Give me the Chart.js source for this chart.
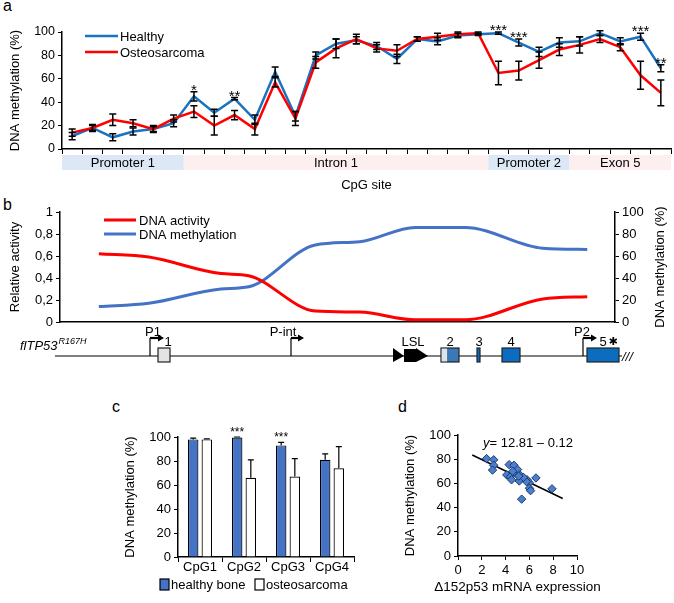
<!DOCTYPE html>
<html>
<head>
<meta charset="utf-8">
<script src="https://cdn.jsdelivr.net/npm/chart.js@4.4.0/dist/chart.umd.min.js"></script>
<style>
body { margin: 0; background: #fff; width: 674px; height: 603px; position: relative; overflow: hidden; font-family: "Liberation Sans", Arial, sans-serif; }
canvas { position: absolute; }
.tag { position: absolute; font-size: 16px; color: #000; }
</style>
</head>
<body>
<div class="tag" style="left:3px;top:-3px">a</div>
<div class="tag" style="left:3px;top:196px">b</div>
<div class="tag" style="left:112px;top:398px">c</div>
<div class="tag" style="left:398px;top:398px">d</div>
<canvas id="ca" width="674" height="200" style="left:0;top:0"></canvas>
<canvas id="cb" width="674" height="185" style="left:0;top:195px"></canvas>
<canvas id="cc" width="330" height="208" style="left:40px;top:395px"></canvas>
<canvas id="cd" width="304" height="208" style="left:370px;top:395px"></canvas>
<script>
Chart.defaults.font.family = '"Liberation Sans", Arial, sans-serif';
Chart.defaults.font.size = 12;
Chart.defaults.color = '#111';

// ---- panel a : CpG methylation along the gene
const cpgSites = ['1','2','3','4','5','6','7','8','9','10','11','12','13','14','15','16','17','18','19','20','21','22','23','24','25','26','27','28','29','30'];
const healthyMeth = [11, 18, 10, 15, 17, 22, 45, 31, 43, 25, 66, 28, 80, 90, 93, 88, 77, 94, 92, 97, 98, 99, 91, 83, 91, 92, 99, 92, 96, 69];
const healthyErr  = [3, 3, 3, 3, 2, 3, 4, 3, 1, 4, 4, 4, 3, 4, 3, 3, 4, 2, 3, 2, 1, 1, 3, 4, 4, 4, 2, 3, 3, 3];
const osteoMeth   = [14, 18, 25, 22, 17, 26, 32, 20, 29, 17, 57, 26, 74, 86, 94, 86, 84, 94, 96, 98, 99, 65, 67, 76, 85, 89, 94, 87, 63, 48];
const osteoErr    = [3, 2, 5, 3, 3, 3, 5, 8, 4, 5, 4, 6, 5, 8, 4, 3, 5, 2, 3, 2, 1, 10, 8, 7, 5, 7, 3, 3, 12, 11];
const sigMarks    = ['', '', '', '', '', '', '*', '', '**', '', '', '', '', '', '', '', '', '', '', '', '', '***', '***', '', '', '', '', '', '***', '**'];
const regions = [
  { name: 'Promoter 1', from: 0, to: 6, fill: '#dce8f5' },
  { name: 'Intron 1', from: 6, to: 21, fill: '#fdeff0' },
  { name: 'Promoter 2', from: 21, to: 25, fill: '#dce8f5' },
  { name: 'Exon 5', from: 25, to: 30, fill: '#fdeff0' }
];

// ---- panel b : smoothed activity / methylation profile
const profilePos   = [7, 16, 29, 34, 46, 54, 64, 73, 87, 95];
const dnaActivity  = [0.62, 0.59, 0.44, 0.42, 0.10, 0.09, 0.02, 0.02, 0.21, 0.23];
const dnaMethProf  = [14, 17, 30, 32, 70, 73, 86, 86, 67, 66];

// ---- panel c : pyrosequencing CpG1-4
const cpgGroups   = ['CpG1', 'CpG2', 'CpG3', 'CpG4'];
const boneMeth    = [98, 99.5, 93, 81];
const boneErr     = [1, 0.5, 2.5, 5];
const sarcomaMeth = [98, 66, 67, 74];
const sarcomaErr  = [0.5, 15, 15, 18];
const cpgSig      = ['', '***', '***', ''];

// ---- panel d : methylation vs expression
const exprX = [2.4, 3.0, 3.0, 2.9, 4.1, 4.3, 4.7, 4.4, 4.5, 4.9, 5.0, 5.2, 5.15, 5.8, 6.0, 6.0, 6.1, 6.55, 7.9, 5.35, 5.75, 4.6, 5.5, 5.1];
const methY = [80.5, 79.5, 75, 71, 67, 75.5, 75, 65.5, 63, 68, 71.5, 67, 62, 63, 60.5, 56, 54, 64.5, 55.5, 47, 61.5, 70, 65, 66];
const trendX = [1.2, 8.8];
const trendY = [83.5, 47.5];

const black = '#000';
const fontStr = (s, extra) => (extra ? extra + ' ' : '') + s + 'px "Liberation Sans", Arial, sans-serif';

const errorBars = {
  id: 'errorBars',
  afterDatasetsDraw(chart, args, opts) {
    const ctx = chart.ctx;
    const y = chart.scales.y;
    chart.data.datasets.forEach((ds, di) => {
      if (!ds.errors) return;
      const meta = chart.getDatasetMeta(di);
      meta.data.forEach((el, i) => {
        const v = ds.data[i], e = ds.errors[i];
        const top = y.getPixelForValue(v + e);
        const bot = y.getPixelForValue(opts.upOnly ? v : v - e);
        ctx.save();
        ctx.strokeStyle = black;
        ctx.lineWidth = opts.width;
        ctx.beginPath();
        ctx.moveTo(el.x, top); ctx.lineTo(el.x, bot);
        ctx.moveTo(el.x - opts.cap, top); ctx.lineTo(el.x + opts.cap, top);
        if (!opts.upOnly) { ctx.moveTo(el.x - opts.cap, bot); ctx.lineTo(el.x + opts.cap, bot); }
        ctx.stroke();
        ctx.restore();
      });
    });
  }
};

// extras for panel a: legend, stars, region band, axis name
const panelAExtras = {
  id: 'panelAExtras',
  afterDraw(chart) {
    const ctx = chart.ctx, x = chart.scales.x, y = chart.scales.y, area = chart.chartArea;
    const w = (area.right - area.left) / cpgSites.length;
    ctx.save();
    regions.forEach(r => {
      const x0 = x.getPixelForValue(r.from) - w / 2;
      const x1 = x.getPixelForValue(r.to - 1) + w / 2;
      ctx.fillStyle = r.fill;
      ctx.fillRect(x0, area.bottom + 6, x1 - x0, 15);
      ctx.fillStyle = black;
      ctx.font = fontStr(13);
      ctx.textAlign = 'center';
      ctx.textBaseline = 'middle';
      ctx.fillText(r.name, (x0 + x1) / 2, area.bottom + 14);
    });
    ctx.fillText('CpG site', (area.left + area.right) / 2, area.bottom + 36);

    ctx.font = fontStr(15);
    ctx.textAlign = 'center';
    ctx.textBaseline = 'alphabetic';
    sigMarks.forEach((m, i) => {
      if (!m) return;
      const top = Math.max(healthyMeth[i] + healthyErr[i], osteoMeth[i] + osteoErr[i]);
      ctx.fillText(m, x.getPixelForValue(i), y.getPixelForValue(top) + 3);
    });

    ctx.font = fontStr(13);
    chart.data.datasets.forEach((ds, i) => {
      const ly = 36 + i * 16;
      ctx.strokeStyle = ds.borderColor;
      ctx.lineWidth = 2.5;
      ctx.beginPath(); ctx.moveTo(85, ly); ctx.lineTo(118, ly); ctx.stroke();
      ctx.textAlign = 'left';
      ctx.textBaseline = 'middle';
      ctx.fillText(ds.label, 120, ly + 1);
    });
    ctx.restore();
  }
};

new Chart(document.getElementById('ca'), {
  type: 'line',
  data: {
    labels: cpgSites,
    datasets: [
      { label: 'Healthy', data: healthyMeth, errors: healthyErr, borderColor: '#1a73c1', borderWidth: 2.5, pointRadius: 0, order: 1 },
      { label: 'Osteosarcoma', data: osteoMeth, errors: osteoErr, borderColor: '#ff0000', borderWidth: 2.5, pointRadius: 0, order: 0 }
    ]
  },
  options: {
    responsive: false,
    animation: false,
    layout: { padding: { left: 8, right: 3, top: 32, bottom: 0 } },
    plugins: { legend: { display: false }, tooltip: { enabled: false }, errorBars: { width: 1.5, cap: 3.5 } },
    scales: {
      x: {
        offset: true,
        grid: { offset: true, drawOnChartArea: false, tickLength: 5, color: black },
        border: { color: black, width: 1.5 },
        ticks: { display: false },
        afterFit: s => { s.height = 51; }
      },
      y: {
        min: 0, max: 100,
        ticks: { stepSize: 20, color: black, font: { size: 12.5 } },
        grid: { drawOnChartArea: false, tickLength: 4, color: black },
        border: { color: black, width: 1.5 },
        title: { display: true, text: 'DNA methylation (%)', font: { size: 13 }, color: black, padding: { top: 0, bottom: 0 } },
        afterFit: s => { s.width = 54; }
      }
    }
  },
  plugins: [errorBars, panelAExtras]
});

// ---- panel b
const geneDiagram = {
  id: 'geneDiagram',
  afterDraw(chart) {
    const ctx = chart.ctx, area = chart.chartArea;
    ctx.save();
    // legend
    const items = [['DNA activity', '#ff0000'], ['DNA methylation', '#4472c4']];
    items.forEach((it, i) => {
      const ly = 25 + i * 14;
      ctx.strokeStyle = it[1]; ctx.lineWidth = 3;
      ctx.beginPath(); ctx.moveTo(104, ly); ctx.lineTo(136, ly); ctx.stroke();
      ctx.fillStyle = black; ctx.font = fontStr(13);
      ctx.textAlign = 'left'; ctx.textBaseline = 'middle';
      ctx.fillText(it[0], 139, ly + 1);
    });
    // right axis name
    ctx.save();
    ctx.translate(660, (area.top + area.bottom) / 2);
    ctx.rotate(-Math.PI / 2);
    ctx.textAlign = 'center'; ctx.textBaseline = 'middle';
    ctx.font = fontStr(13);
    ctx.fillText('DNA methylation (%)', 0, 0);
    ctx.restore();

    // gene schematic
    const ly = 161, bt = 153, bh = 14;
    ctx.strokeStyle = black; ctx.lineWidth = 1.2;
    ctx.beginPath(); ctx.moveTo(55, ly); ctx.lineTo(622, ly); ctx.stroke();

    ctx.font = fontStr(13, 'italic');
    ctx.textAlign = 'left'; ctx.textBaseline = 'alphabetic';
    ctx.fillText('flTP53', 20, 155);
    const tw = ctx.measureText('flTP53').width;
    ctx.font = fontStr(9, 'italic');
    ctx.fillText('R167H', 20 + tw + 1, 149);

    const promoter = (px, end, label, lx) => {
      ctx.strokeStyle = black; ctx.lineWidth = 1.2;
      ctx.beginPath(); ctx.moveTo(px, ly); ctx.lineTo(px, 143); ctx.stroke();
      ctx.lineWidth = 2.2;
      ctx.beginPath(); ctx.moveTo(px, 143); ctx.lineTo(end - 5, 143); ctx.stroke();
      ctx.fillStyle = black;
      ctx.beginPath(); ctx.moveTo(end, 143); ctx.lineTo(end - 6, 139.5); ctx.lineTo(end - 6, 146.5); ctx.closePath(); ctx.fill();
      ctx.font = fontStr(13); ctx.textAlign = 'center'; ctx.textBaseline = 'alphabetic';
      ctx.fillText(label, lx, 141);
    };
    promoter(150, 164, 'P1', 153);
    promoter(291, 304, 'P-int', 283);
    promoter(583, 597, 'P2', 582);

    const box = (x0, x1, fill) => {
      ctx.fillStyle = fill; ctx.fillRect(x0, bt, x1 - x0, bh);
      ctx.strokeStyle = '#222'; ctx.lineWidth = 1.2; ctx.strokeRect(x0, bt, x1 - x0, bh);
    };
    const num = (t, x) => {
      ctx.fillStyle = black; ctx.font = fontStr(13); ctx.textAlign = 'center'; ctx.textBaseline = 'alphabetic';
      ctx.fillText(t, x, 151);
    };
    box(158, 170, '#e3e3e3'); num('1', 168);
    // LSL cassette
    ctx.fillStyle = black;
    ctx.beginPath(); ctx.moveTo(393, bt); ctx.lineTo(404, ly); ctx.lineTo(393, bt + bh); ctx.closePath(); ctx.fill();
    ctx.fillRect(404, bt + 1, 12, bh - 1);
    ctx.beginPath(); ctx.moveTo(416, bt); ctx.lineTo(428, ly); ctx.lineTo(416, bt + bh); ctx.closePath(); ctx.fill();
    num('LSL', 413);
    box(441, 459, '#3a78b8');
    ctx.fillStyle = '#e3e3e3'; ctx.fillRect(441.6, bt + 0.6, 5.5, bh - 1.2);
    num('2', 450);
    box(477, 480, '#0b6cc0'); num('3', 479);
    box(502, 520, '#0b6cc0'); num('4', 511);
    box(587, 619, '#0b6cc0'); num('5', 603);
    ctx.font = '11px "DejaVu Sans"'; ctx.fillText('\u2731', 613, 150);
    ctx.font = fontStr(13, 'italic'); ctx.textAlign = 'left'; ctx.textBaseline = 'middle';
    ctx.fillText('///', 622, ly + 1);
    ctx.restore();
  }
};

new Chart(document.getElementById('cb'), {
  type: 'line',
  data: {
    datasets: [
      { label: 'DNA activity', data: profilePos.map((p, i) => ({ x: p, y: dnaActivity[i] })), yAxisID: 'y', borderColor: '#ff0000', borderWidth: 3, pointRadius: 0, cubicInterpolationMode: 'monotone' },
      { label: 'DNA methylation', data: profilePos.map((p, i) => ({ x: p, y: dnaMethProf[i] })), yAxisID: 'y2', borderColor: '#4472c4', borderWidth: 3, pointRadius: 0, cubicInterpolationMode: 'monotone' }
    ]
  },
  options: {
    responsive: false,
    animation: false,
    layout: { padding: { left: 8, right: 0, top: 17, bottom: 0 } },
    plugins: { legend: { display: false }, tooltip: { enabled: false } },
    scales: {
      x: {
        type: 'linear', min: 0, max: 100,
        ticks: { display: false },
        grid: { display: false },
        border: { color: black, width: 1.5 },
        afterFit: s => { s.height = 58; }
      },
      y: {
        position: 'left', min: 0, max: 1,
        ticks: { stepSize: 0.2, color: black, font: { size: 13 }, callback: v => v === 0 || v === 1 ? String(v) : v.toFixed(1).replace('.', ',') },
        grid: { drawOnChartArea: false, tickLength: 4, color: black },
        border: { color: black, width: 1.5 },
        title: { display: true, text: 'Relative activity', font: { size: 13 }, color: black, padding: { top: 0, bottom: 0 } },
        afterFit: s => { s.width = 52; }
      },
      y2: {
        position: 'right', min: 0, max: 100,
        ticks: { stepSize: 20, color: black, font: { size: 13 } },
        grid: { drawOnChartArea: false, tickLength: 4, color: black },
        border: { color: black, width: 1.5 },
        afterFit: s => { s.width = 59; }
      }
    }
  },
  plugins: [geneDiagram]
});

// ---- panel c
const panelCExtras = {
  id: 'panelCExtras',
  afterDraw(chart) {
    const ctx = chart.ctx, y = chart.scales.y;
    ctx.save();
    const meta = chart.getDatasetMeta(0);
    ctx.fillStyle = black; ctx.font = fontStr(12); ctx.textAlign = 'center'; ctx.textBaseline = 'alphabetic';
    cpgSig.forEach((m, i) => {
      if (!m) return;
      ctx.fillText(m, meta.data[i].x, y.getPixelForValue(boneMeth[i] + boneErr[i]) - 1);
    });
    // legend
    chart.data.datasets.forEach((ds, i) => {
      const bx = 120 + i * 95;
      ctx.fillStyle = ds.backgroundColor; ctx.fillRect(bx, 184, 9, 11);
      ctx.strokeStyle = black; ctx.lineWidth = 1.2; ctx.strokeRect(bx, 184, 9, 11);
      ctx.fillStyle = black; ctx.font = fontStr(13); ctx.textAlign = 'left'; ctx.textBaseline = 'middle';
      ctx.fillText(ds.label, bx + 11, 190);
    });
    ctx.restore();
  }
};

new Chart(document.getElementById('cc'), {
  type: 'bar',
  data: {
    labels: cpgGroups,
    datasets: [
      { label: 'healthy bone', data: boneMeth, errors: boneErr, backgroundColor: '#4472c4', borderColor: black, borderWidth: 1.2, categoryPercentage: 0.62, barPercentage: 0.77 },
      { label: 'osteosarcoma', data: sarcomaMeth, errors: sarcomaErr, backgroundColor: '#ffffff', borderColor: black, borderWidth: 1.2, categoryPercentage: 0.62, barPercentage: 0.77 }
    ]
  },
  options: {
    responsive: false,
    animation: false,
    layout: { padding: { left: 83, right: 16, top: 42, bottom: 0 } },
    plugins: { legend: { display: false }, tooltip: { enabled: false }, errorBars: { width: 1.2, cap: 3, upOnly: true } },
    scales: {
      x: {
        grid: { offset: true, drawOnChartArea: false, tickLength: 5, color: black },
        border: { color: black, width: 1.5 },
        ticks: { color: black, font: { size: 13 }, padding: -2 },
        afterFit: s => { s.height = 46; }
      },
      y: {
        min: 0, max: 100,
        ticks: { stepSize: 20, color: black, font: { size: 13 } },
        grid: { drawOnChartArea: false, tickLength: 4, color: black },
        border: { color: black, width: 1.5 },
        title: { display: true, text: 'DNA methylation (%)', font: { size: 13 }, color: black, padding: { top: 0, bottom: 0 } },
        afterFit: s => { s.width = 55; }
      }
    }
  },
  plugins: [errorBars, panelCExtras]
});

// ---- panel d
const panelDExtras = {
  id: 'panelDExtras',
  afterDraw(chart) {
    const ctx = chart.ctx, area = chart.chartArea;
    ctx.save();
    ctx.fillStyle = black; ctx.textBaseline = 'middle'; ctx.textAlign = 'left';
    const x0 = area.left + 25, ty = area.top + 8;
    ctx.font = fontStr(13, 'italic');
    ctx.fillText('y', x0, ty);
    const w = ctx.measureText('y').width;
    ctx.font = fontStr(13);
    ctx.fillText('= 12.81 \u2013 0.12', x0 + w, ty);
    ctx.textAlign = 'center';
    ctx.font = fontStr(13.5);
    ctx.fillText('\u0394152p53 mRNA expression', (area.left + area.right) / 2, 192);
    ctx.restore();
  }
};

new Chart(document.getElementById('cd'), {
  type: 'scatter',
  data: {
    datasets: [
      { label: 'samples', data: exprX.map((v, i) => ({ x: v, y: methY[i] })), pointStyle: 'rectRot', pointRadius: 4.2, backgroundColor: '#4a7fd0', borderColor: '#1f3a68', borderWidth: 1 },
      { label: 'trend', type: 'line', data: trendX.map((v, i) => ({ x: v, y: trendY[i] })), borderColor: black, borderWidth: 1.5, pointRadius: 0 }
    ]
  },
  options: {
    responsive: false,
    animation: false,
    layout: { padding: { left: 33, right: 97, top: 40, bottom: 0 } },
    plugins: { legend: { display: false }, tooltip: { enabled: false } },
    scales: {
      x: {
        type: 'linear', min: 0, max: 10,
        ticks: { stepSize: 2, color: black, font: { size: 13 } },
        grid: { drawOnChartArea: false, tickLength: 4, color: black },
        border: { color: black, width: 1.5 },
        afterFit: s => { s.height = 47; }
      },
      y: {
        min: 0, max: 100,
        ticks: { stepSize: 20, color: black, font: { size: 13 } },
        grid: { drawOnChartArea: false, tickLength: 4, color: black },
        border: { color: black, width: 1.5 },
        title: { display: true, text: 'DNA methylation (%)', font: { size: 13 }, color: black, padding: { top: 0, bottom: 0 } },
        afterFit: s => { s.width = 55; }
      }
    }
  },
  plugins: [panelDExtras]
});
</script>
</body>
</html>
